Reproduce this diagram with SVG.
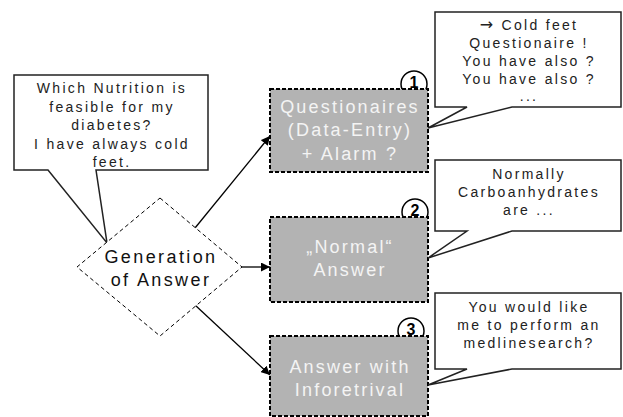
<svg xmlns="http://www.w3.org/2000/svg" width="623" height="417" viewBox="0 0 623 417">
<style>
.call{fill:#fff;stroke:#222;stroke-width:1.5;stroke-linejoin:miter}
.ct{font-family:"Liberation Sans",Arial,sans-serif;font-size:14px;letter-spacing:2.3px;fill:#222;text-anchor:middle}
.arr{font-family:"DejaVu Sans",sans-serif;font-size:16px}
.box{fill:#b3b3b3;stroke:#000;stroke-width:2;stroke-dasharray:4,2}
.bt{font-family:"Liberation Sans",Arial,sans-serif;font-size:18px;letter-spacing:2.2px;fill:#f4f4f4;text-anchor:middle}
.num{fill:#fff;stroke:#000;stroke-width:1.5}
.nt{font-family:"Liberation Sans",Arial,sans-serif;font-size:16px;font-weight:bold;fill:#000;text-anchor:middle}
.dia{fill:#fff;stroke:#000;stroke-width:1;stroke-dasharray:4,3}
.dt{font-family:"Liberation Sans",Arial,sans-serif;font-size:18px;letter-spacing:2.4px;fill:#111;text-anchor:middle}
.edge{stroke:#000;stroke-width:1.3;fill:none}
</style>
<defs>
<marker id="ah" viewBox="0 0 10 10" refX="10" refY="5" markerWidth="9" markerHeight="9" markerUnits="userSpaceOnUse" orient="auto">
<path d="M0,0 L10,5 L0,10 Z" fill="#000"/>
</marker>
</defs>
<g id="question">
<path class="call" d="M14,75 H208 V170 H96 L107,243 L48,170 H14 Z"/>
<text class="ct" x="112" y="93">Which Nutrition is</text>
<text class="ct" x="112" y="111.5">feasible for my</text>
<text class="ct" x="112" y="130">diabetes?</text>
<text class="ct" x="112" y="148.5">I have always cold</text>
<text class="ct" x="112" y="167">feet.</text>
</g>
<g id="connectors">
<line class="edge" x1="195" y1="228" x2="270" y2="136" marker-end="url(#ah)"/>
<line class="edge" x1="242" y1="267" x2="270" y2="267" marker-end="url(#ah)"/>
<line class="edge" x1="195" y1="305" x2="270" y2="375" marker-end="url(#ah)"/>
</g>
<g id="generation">
<path class="dia" d="M160,198 L242,267 L160,336 L77,267 Z"/>
<text class="dt" x="161" y="263">Generation</text>
<text class="dt" x="161" y="286">of Answer</text>
</g>
<g id="box1">
<circle class="num" cx="414" cy="84" r="13"/>
<rect class="box" x="270" y="89" width="158" height="83"/>
<text class="nt" x="414" y="88">1</text>
<text class="bt" x="350" y="113">Questionaires</text>
<text class="bt" x="350" y="136">(Data-Entry)</text>
<text class="bt" x="350" y="160">+ Alarm ?</text>
</g>
<g id="box2">
<circle class="num" cx="415" cy="212" r="13"/>
<rect class="box" x="270" y="217" width="158" height="85"/>
<text class="nt" x="415" y="216">2</text>
<text class="bt" x="350" y="253">„Normal“</text>
<text class="bt" x="350" y="276">Answer</text>
</g>
<g id="box3">
<circle class="num" cx="411" cy="331" r="13"/>
<rect class="box" x="270" y="336" width="158" height="80"/>
<text class="nt" x="411" y="335">3</text>
<text class="bt" x="350" y="373">Answer with</text>
<text class="bt" x="350" y="396">Inforetrival</text>
</g>
<g id="callout1">
<path class="call" d="M435,12 H621 V107 H512 L428,128 L467,107 H435 Z"/>
<text class="ct" x="529" y="30"><tspan class="arr">→</tspan> Cold feet</text>
<text class="ct" x="529" y="48">Questionaire !</text>
<text class="ct" x="529" y="66">You have also ?</text>
<text class="ct" x="529" y="84">You have also ?</text>
<text class="ct" x="529" y="101">...</text>
</g>
<g id="callout2">
<path class="call" d="M435,160 H621 V231 H512 L428,258 L467,231 H435 Z"/>
<text class="ct" x="529" y="179">Normally</text>
<text class="ct" x="529" y="197">Carboanhydrates</text>
<text class="ct" x="529" y="215">are ...</text>
</g>
<g id="callout3">
<path class="call" d="M435,293 H621 V369 H512 L428,385 L467,369 H435 Z"/>
<text class="ct" x="529" y="312">You would like</text>
<text class="ct" x="529" y="330">me to perform an</text>
<text class="ct" x="529" y="348">medlinesearch?</text>
</g>
</svg>
